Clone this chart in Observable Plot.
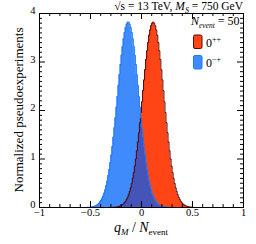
<!DOCTYPE html>
<html>
<head>
<meta charset="utf-8">
<script src="https://cdn.jsdelivr.net/npm/d3@7"></script>
<script src="https://cdn.jsdelivr.net/npm/@observablehq/plot@0.6"></script>
<style>
  html, body { margin: 0; padding: 0; background: white; }
  svg text { font-family: "Liberation Serif", serif; }
</style>
</head>
<body>
<div id="chart"></div>
<script>
// ---- data ----
const binWidth = 0.01;
// 0^{-+} (blue) histogram: first bin lower edge and bin heights
const blueStart = -0.53;
const blueValues = [0.003,0.004,0.006,0.008,0.011,0.016,0.021,0.029,0.039,0.052,0.068,0.089,0.116,0.149,0.189,0.238,0.297,0.368,0.451,0.547,0.659,0.785,0.927,1.085,1.258,1.45,1.645,1.85,2.07,2.29,2.52,2.74,2.95,3.14,3.32,3.48,3.61,3.71,3.78,3.82,
                    3.82,3.78,3.71,3.61,3.48,3.32,3.14,2.95,2.74,2.52,2.29,2.07,1.85,1.645,1.45,1.258,1.085,0.927,0.785,0.659,0.547,0.451,0.368,0.297,0.238,0.189,0.149,0.116,0.089,0.068,0.052,0.039,0.029,0.021,0.016,0.011,0.008,0.006,0.004,0.003];
// 0^{++} (red) histogram
const redStart = -0.29;
const redValues = [0.002,0.0035,0.005,0.007,0.010,0.013,0.018,0.025,0.034,0.045,0.060,0.078,0.102,0.131,0.168,0.212,0.266,0.331,0.408,0.497,0.601,0.720,0.854,1.00,1.17,1.35,1.54,1.75,1.96,2.18,2.41,2.63,2.84,3.05,3.23,3.40,3.55,3.66,3.75,3.80,
                   3.82,
                   3.80,3.75,3.66,3.55,3.40,3.23,3.05,2.84,2.63,2.41,2.18,1.96,1.75,1.54,1.35,1.17,1.00,0.854,0.720,0.601,0.497,0.408,0.331,0.266,0.212,0.168,0.131,0.102,0.078,0.060,0.045,0.034,0.025,0.018,0.013,0.010,0.007,0.005,0.0035,0.002];

const xTicks = [-1, -0.5, 0, 0.5, 1];
const xTickLabels = ["\u22121", "\u22120.5", "0", "0.5", "1"];
const yTicks = [0, 1, 2, 3, 4];
const yTickLabels = ["0", "1", "2", "3", "4"];

// ---- build full histograms on [-1, 1] ----
const nBins = 200;
function fullGrid(start, vals) {
  const g = new Array(nBins).fill(0);
  const off = Math.round((start + 1) / binWidth);
  vals.forEach((v, i) => { g[off + i] = v; });
  return g;
}
const blueGrid = fullGrid(blueStart, blueValues);
const redGrid = fullGrid(redStart, redValues);
const overlapGrid = blueGrid.map((b, i) => Math.min(b, redGrid[i]));
function steps(g) {
  const pts = g.map((v, i) => ({x: -1 + i * binWidth, y: v}));
  pts.push({x: 1, y: g[g.length - 1]});
  return pts;
}
const redPts = steps(redGrid), bluePts = steps(blueGrid), ovPts = steps(overlapGrid);

const xMinor = d3.range(-10, 11).filter(i => i % 5 !== 0).map(i => i / 10);
const yMinor = d3.range(0, 41).filter(i => i % 10 !== 0).map(i => i / 10);

const W = 256, H = 244, mL = 39, mR = 13, mT = 13, mB = 37;
const innerH = H - mT - mB, innerW = W - mL - mR;

const RED = "#ff4416", RED_LINE = "#5a0808";
const BLUE = "#3f8bfb", BLUE_LINE = "#1b77ff";
const OVER = "#4454b8";

const fmtX = d => xTickLabels[xTicks.indexOf(d)];
const fmtY = d => yTickLabels[yTicks.indexOf(d)];

const svg = Plot.plot({
  width: W, height: H,
  marginLeft: mL, marginRight: mR, marginTop: mT, marginBottom: mB,
  style: {fontFamily: "'Liberation Serif', serif", fontSize: "10.5px", background: "white", color: "black"},
  x: {domain: [-1, 1]},
  y: {domain: [0, 4]},
  marks: [
    Plot.areaY(redPts, {x: "x", y: "y", curve: "step-after", fill: RED}),
    Plot.areaY(bluePts, {x: "x", y: "y", curve: "step-after", fill: BLUE}),
    Plot.areaY(ovPts, {x: "x", y: "y", curve: "step-after", fill: OVER}),
    Plot.lineY(redPts, {x: "x", y: "y", curve: "step-after", stroke: RED_LINE, strokeWidth: 1}),
    Plot.lineY(bluePts, {x: "x", y: "y", curve: "step-after", stroke: BLUE_LINE, strokeWidth: 1}),
    // inward ticks on all four sides
    Plot.ruleX(xTicks, {insetTop: innerH - 6, stroke: "black"}),
    Plot.ruleX(xMinor, {insetTop: innerH - 3, stroke: "black"}),
    Plot.ruleX(xTicks, {insetBottom: innerH - 6, stroke: "black"}),
    Plot.ruleX(xMinor, {insetBottom: innerH - 3, stroke: "black"}),
    Plot.ruleY(yTicks, {insetRight: innerW - 6, stroke: "black"}),
    Plot.ruleY(yMinor, {insetRight: innerW - 3, stroke: "black"}),
    Plot.ruleY(yTicks, {insetLeft: innerW - 6, stroke: "black"}),
    Plot.ruleY(yMinor, {insetLeft: innerW - 3, stroke: "black"}),
    Plot.axisX(xTicks, {anchor: "bottom", tickSize: 0, tickPadding: 1.5, tickFormat: fmtX, label: null, fontSize: 10.5}),
    Plot.axisY(yTicks, {anchor: "left", tickSize: 0, tickPadding: 4, dy: -2.5, tickFormat: fmtY, label: null, fontSize: 10.5}),
    Plot.frame({stroke: "black", strokeWidth: 1})
  ]
});

const s = d3.select(svg);
const FF = "'Liberation Serif', serif";

// Title
const t = s.append("text").attr("x", W - mR).attr("y", 10).attr("text-anchor", "end")
  .attr("font-family", FF).attr("font-size", 11.5).attr("fill", "black");
t.append("tspan").text("\u221As = 13 TeV, ");
t.append("tspan").attr("font-style", "italic").text("M");
t.append("tspan").attr("font-style", "italic").attr("font-size", 8).attr("dy", 2.5).text("S");
t.append("tspan").attr("dy", -2.5).text(" = 750 GeV");

// X label
const xl = s.append("text").attr("x", mL + innerW / 2).attr("y", 231.5).attr("text-anchor", "middle")
  .attr("font-family", FF).attr("font-size", 14).attr("fill", "black");
xl.append("tspan").attr("font-style", "italic").text("q");
xl.append("tspan").attr("font-style", "italic").attr("font-size", 9).attr("dy", 3).text("M");
xl.append("tspan").attr("dy", -3).text(" / ");
xl.append("tspan").attr("font-style", "italic").text("N");
xl.append("tspan").attr("font-size", 9).attr("dy", 3).text("event");

// Y label
s.append("text").attr("transform", `translate(23,${mT + innerH / 2}) rotate(-90)`)
  .attr("text-anchor", "middle").attr("font-family", FF).attr("font-size", 13).attr("fill", "black")
  .text("Normalized pseudoexperiments");

// Legend
const lg = s.append("text").attr("x", 191).attr("y", 25).attr("text-anchor", "start")
  .attr("font-family", FF).attr("font-size", 12).attr("fill", "black");
lg.append("tspan").attr("font-style", "italic").text("N");
lg.append("tspan").attr("font-style", "italic").attr("font-size", 7.5).attr("dy", 2.5).text("event");
lg.append("tspan").attr("dy", -2.5).text(" = 50");

s.append("rect").attr("x", 193.5).attr("y", 35).attr("width", 8.5).attr("height", 13.5).attr("rx", 1.5)
  .attr("fill", RED).attr("stroke", RED_LINE).attr("stroke-width", 1);
s.append("rect").attr("x", 193.5).attr("y", 55.5).attr("width", 8.5).attr("height", 13.5).attr("rx", 1.5)
  .attr("fill", BLUE).attr("stroke", BLUE_LINE).attr("stroke-width", 1);

const l1 = s.append("text").attr("x", 206).attr("y", 47).attr("text-anchor", "start")
  .attr("font-family", FF).attr("font-size", 12).attr("fill", "black");
l1.append("tspan").text("0");
l1.append("tspan").attr("font-size", 8).attr("dy", -5).text("++");
const l2 = s.append("text").attr("x", 206).attr("y", 67).attr("text-anchor", "start")
  .attr("font-family", FF).attr("font-size", 12).attr("fill", "black");
l2.append("tspan").text("0");
l2.append("tspan").attr("font-size", 8).attr("dy", -5).text("\u2212+");

document.getElementById("chart").appendChild(svg);
</script>
</body>
</html>
